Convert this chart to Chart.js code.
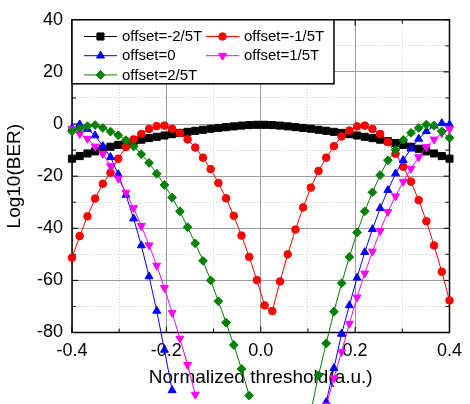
<!DOCTYPE html>
<html>
<head>
<meta charset="utf-8">
<script src="https://cdn.jsdelivr.net/npm/chart.js"></script>
<style>
  body { margin: 0; background: #fff; }
  canvas { display: block; }
</style>
</head>
<body>
<canvas id="chart" width="470" height="404"></canvas>
<script>
// normalized threshold (a.u.), shared by every curve
const thresholds = [
  -0.4, -0.3837, -0.3673, -0.3510, -0.3347, -0.3184, -0.3020, -0.2857, -0.2694, -0.2531,
  -0.2367, -0.2204, -0.2041, -0.1878, -0.1714, -0.1551, -0.1388, -0.1224, -0.1061, -0.0898,
  -0.0735, -0.0571, -0.0408, -0.0245, -0.0082, 0.0082, 0.0245, 0.0408, 0.0571, 0.0735,
  0.0898, 0.1061, 0.1224, 0.1388, 0.1551, 0.1714, 0.1878, 0.2041, 0.2204, 0.2367,
  0.2531, 0.2694, 0.2857, 0.3020, 0.3184, 0.3347, 0.3510, 0.3673, 0.3837, 0.4
];

// Log10(BER) per offset
const berMinus2 = [
  -13.3, -12.3, -11.3, -10.5, -9.5, -8.7, -8.0, -7.3, -6.6, -6.0,
  -5.4, -4.9, -4.4, -3.9, -3.4, -3.0, -2.6, -2.2, -1.8, -1.5,
  -1.2, -0.9, -0.6, -0.4, -0.3, -0.3, -0.4, -0.6, -0.9, -1.2,
  -1.5, -1.8, -2.2, -2.6, -3.0, -3.4, -3.9, -4.4, -4.9, -5.4,
  -6.0, -6.6, -7.3, -8.0, -8.7, -9.5, -10.5, -11.3, -12.3, -13.3
];
const berMinus1 = [
  -51.3, -43.0, -35.4, -28.6, -22.9, -18.7, -13.3, -8.8, -5.9, -3.8,
  -1.9, -0.8, -0.6, -1.8, -3.4, -5.9, -9.0, -12.9, -17.3, -22.6,
  -28.5, -35.2, -42.8, -51.0, -59.9, -69.6, -71.8, -60.4, -50.0, -40.5,
  -32.0, -24.4, -18.0, -12.9, -8.5, -4.8, -2.5, -0.9, -0.6, -1.9,
  -3.8, -6.9, -11.4, -16.4, -22.1, -29.2, -37.3, -46.6, -56.7, -67.7
];
const berZero = [
  -1.5, -0.2, -1.9, -4.4, -8.5, -12.7, -19.3, -27.2, -36.3, -46.6,
  -58.5, -71.7, -86.7, -102.2, null, null, null, null, null, null,
  null, null, null, null, null, null, null, null, null, null,
  null, null, null, -106.7, -93.7, -80.5, -69.6, -59.0, -49.2, -40.4,
  -32.3, -25.4, -19.0, -13.9, -9.5, -5.7, -2.8, -0.6, 0.3, -0.2
];
const berPlus1 = [
  -1.9, -3.8, -5.6, -8.6, -11.4, -16.1, -20.9, -26.3, -32.2, -39.1,
  -46.5, -54.3, -62.9, -72.4, -82.3, -92.4, -103.8, null, null, null,
  null, null, null, null, null, null, null, null, null, null,
  null, null, null, -108.0, -97.5, -87.4, -76.6, -66.5, -57.3, -48.9,
  -41.0, -33.7, -27.7, -22.1, -17.1, -12.7, -8.8, -5.9, -3.5, -1.9
];
const berPlus2 = [
  -2.8, -1.7, -0.8, -0.4, -1.5, -2.9, -4.3, -6.2, -8.6, -11.6,
  -14.9, -19.1, -23.4, -28.2, -33.5, -39.6, -45.8, -52.5, -60.0, -68.0,
  -76.2, -84.8, -94.0, -104.2, null, null, null, null, null, null,
  null, -110.4, -96.4, -84.2, -72.0, -61.1, -51.0, -41.6, -33.5, -26.2,
  -19.6, -13.9, -9.9, -6.1, -3.4, -1.5, -0.2, -0.6, -2.8, -5.3
];

const seriesLabels = ['offset=-2/5T', 'offset=-1/5T', 'offset=0', 'offset=1/5T', 'offset=2/5T'];
const xTickLabels = ['-0.4', '-0.2', '0.0', '0.2', '0.4'];
const yTickLabels = [-80, -60, -40, -20, 0, 20, 40];

const fontFamily = "'Liberation Sans', Arial, sans-serif";

function pts(values) {
  return thresholds.map((x, i) => ({ x: x, y: values[i] }));
}

function series(label, values, color, style, radius, rotation, order) {
  return {
    label: label,
    data: pts(values),
    borderColor: color,
    backgroundColor: color,
    pointBackgroundColor: color,
    pointBorderColor: color,
    pointBorderWidth: 1,
    pointStyle: style,
    pointRadius: radius,
    pointRotation: rotation,
    borderWidth: 1,
    tension: 0,
    spanGaps: false,
    clip: false,
    order: order
  };
}

function isMajorX(v) { return Math.round(v * 10) % 2 === 0; }
function isMajorY(v) { return Math.round(v) % 20 === 0; }

// frame box with inward ticks on all four sides
const frame = {
  id: 'frame',
  beforeDatasetsDraw(chart) {
    const { ctx, chartArea: a, scales } = chart;
    ctx.save();
    ctx.strokeStyle = '#000';
    ctx.lineWidth = 1;
    ctx.beginPath();
    scales.x.ticks.forEach(t => {
      const px = scales.x.getPixelForValue(t.value);
      const len = isMajorX(t.value) ? 6 : 4;
      ctx.moveTo(px, a.bottom); ctx.lineTo(px, a.bottom - len);
      ctx.moveTo(px, a.top); ctx.lineTo(px, a.top + len);
    });
    scales.y.ticks.forEach(t => {
      const py = scales.y.getPixelForValue(t.value);
      const len = isMajorY(t.value) ? 6 : 4;
      ctx.moveTo(a.left, py); ctx.lineTo(a.left + len, py);
      ctx.moveTo(a.right, py); ctx.lineTo(a.right - len, py);
    });
    ctx.stroke();
    ctx.lineWidth = 1.5;
    ctx.strokeRect(a.left, a.top, a.right - a.left, a.bottom - a.top);
    ctx.restore();
  }
};

// markers that fall below the plot, plus the boxed legend
const extras = {
  id: 'extras',
  afterDatasetsDraw(chart) {
    const { ctx, chartArea: a } = chart;
    chart.data.datasets.forEach((ds, i) => {
      chart.getDatasetMeta(i).data.forEach(p => {
        if (!p.skip && p.y > a.bottom + 1) p.draw(ctx);
      });
    });

    ctx.save();
    ctx.fillStyle = '#fff';
    ctx.fillRect(a.left, a.top, 262, 64);
    ctx.strokeStyle = '#000';
    ctx.lineWidth = 1.5;
    ctx.strokeRect(a.left, a.top, 262, 64);
    ctx.font = '15px ' + fontFamily;
    ctx.textBaseline = 'middle';
    ctx.textAlign = 'left';
    chart.data.datasets.forEach((ds, i) => {
      const col = i % 2, row = Math.floor(i / 2);
      const x0 = a.left + 12 + col * 122;
      const y = a.top + 16.7 + row * 19.2;
      ctx.strokeStyle = ds.borderColor;
      ctx.lineWidth = 1;
      ctx.beginPath();
      ctx.moveTo(x0, y);
      ctx.lineTo(x0 + 33, y);
      ctx.stroke();
      ctx.fillStyle = ds.pointBackgroundColor;
      ctx.strokeStyle = ds.pointBorderColor;
      Chart.helpers.drawPoint(ctx, {
        pointStyle: ds.pointStyle,
        rotation: ds.pointRotation,
        radius: ds.pointRadius,
        borderWidth: 1
      }, x0 + 16.5, y);
      ctx.fillStyle = '#000';
      ctx.fillText(ds.label, x0 + 38, y + 0.5);
    });
    ctx.restore();
  }
};

new Chart(document.getElementById('chart'), {
  type: 'line',
  data: {
    datasets: [
      series(seriesLabels[0], berMinus2, '#000000', 'rect', 5, 0, 4),
      series(seriesLabels[1], berMinus1, '#ff0000', 'circle', 3.8, 0, 3),
      series(seriesLabels[2], berZero, '#0000ff', 'triangle', 4.6, 0, 2),
      series(seriesLabels[3], berPlus1, '#ff00ff', 'triangle', 4.6, 180, 1),
      series(seriesLabels[4], berPlus2, '#008000', 'rectRot', 4.4, 0, 0)
    ]
  },
  options: {
    responsive: false,
    animation: false,
    devicePixelRatio: 1,
    layout: { padding: { left: 0, right: 12, top: 16, bottom: 0 } },
    plugins: {
      legend: { display: false },
      tooltip: { enabled: false }
    },
    scales: {
      x: {
        type: 'linear',
        min: -0.4,
        max: 0.4,
        ticks: {
          stepSize: 0.1,
          autoSkip: false,
          maxRotation: 0,
          padding: 8,
          color: '#000',
          font: { family: fontFamily, size: 18 },
          callback: v => {
            const k = Math.round(v * 10);
            return k % 2 === 0 ? xTickLabels[(k + 4) / 2] : '';
          }
        },
        grid: {
          drawTicks: false,
          lineWidth: 1,
          color: c => (c.tick && isMajorX(c.tick.value)) ? '#9a9a9a' : '#cdcdcd'
        },
        border: {
          display: false,
          dash: c => (c.tick && !isMajorX(c.tick.value)) ? [1, 2] : []
        },
        title: {
          display: true,
          text: 'Normalized threshold(a.u.)',
          color: '#000',
          font: { family: fontFamily, size: 19 },
          padding: { top: 0, bottom: 15 }
        },
        afterFit: s => { s.height = 71.5; }
      },
      y: {
        min: -80,
        max: 40,
        ticks: {
          stepSize: 10,
          padding: 9,
          color: '#000',
          font: { family: fontFamily, size: 18 },
          callback: v => yTickLabels.includes(Math.round(v)) ? String(Math.round(v)) : ''
        },
        grid: {
          drawTicks: false,
          lineWidth: 1,
          color: c => (c.tick && isMajorY(c.tick.value)) ? '#9a9a9a' : '#cdcdcd'
        },
        border: {
          display: false,
          dash: c => (c.tick && !isMajorY(c.tick.value)) ? [1, 2] : []
        },
        title: {
          display: true,
          text: 'Log10(BER)',
          color: '#000',
          font: { family: fontFamily, size: 19 },
          padding: { top: 3, bottom: 0 }
        },
        afterFit: s => { s.width = 72; }
      }
    }
  },
  plugins: [frame, extras]
});
</script>
</body>
</html>
